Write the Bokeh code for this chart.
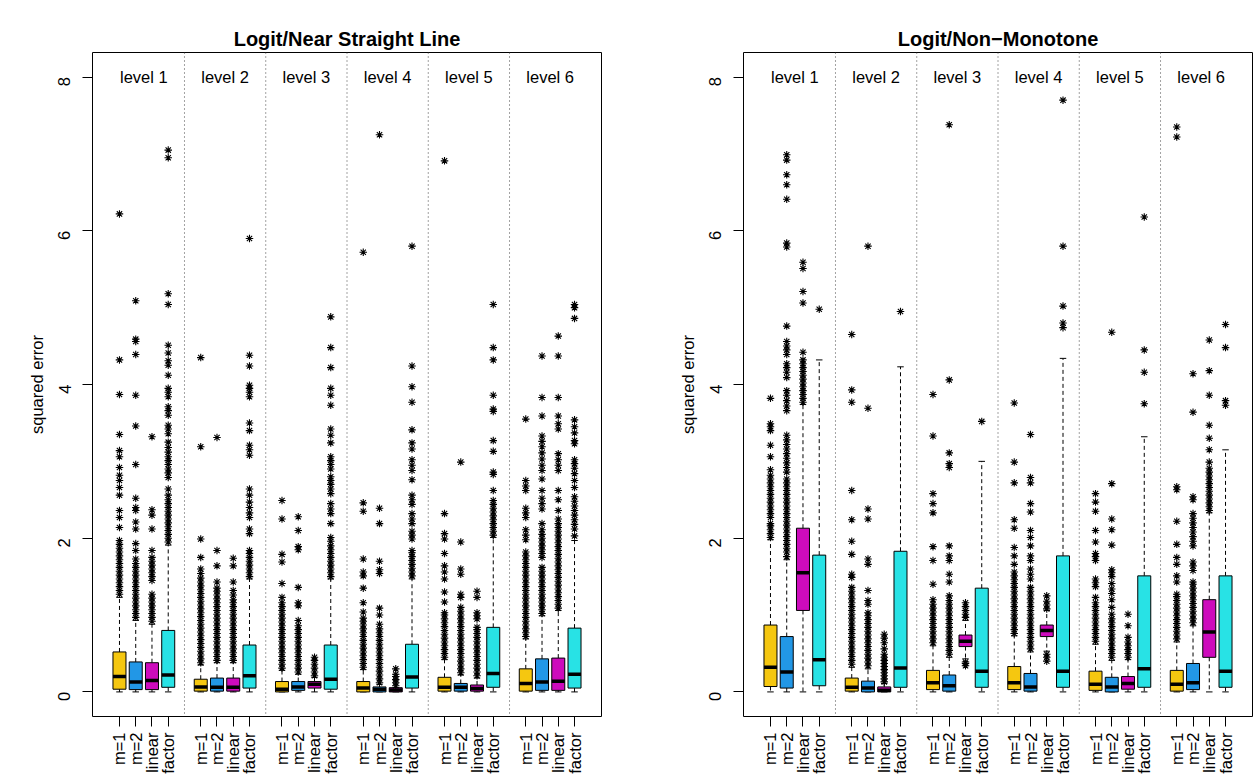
import math
from bokeh.plotting import figure
from bokeh.layouts import row
from bokeh.models import Range1d, FixedTicker, Span, Title, LinearAxis
from bokeh.core.properties import value
from bokeh.embed import file_html
from bokeh.resources import INLINE

levels = ["level 1", "level 2", "level 3", "level 4", "level 5", "level 6"]
methods = ["m=1", "m=2", "linear", "factor"]
colors = ["#F5C710", "#2297E6", "#CD0BBC", "#28E2E5"]
y_ticks = [0, 2, 4, 6, 8]
titles = ["Logit/Near Straight Line", "Logit/Non\u2212Monotone"]
y_label = "squared error"

# ---------------- left panel: Logit/Near Straight Line ----------------
left_lo = [0] * 24
left_q1 = [0.035, 0.03, 0.03, 0.06, 0.01, 0.01, 0.01, 0.05, 0.0, 0.02, 0.05, 0.035,
           0.0, 0.0, 0.0, 0.05, 0.01, 0.01, 0.01, 0.06, 0.01, 0.02, 0.02, 0.05]
left_med = [0.20, 0.13, 0.15, 0.22, 0.065, 0.06, 0.06, 0.21, 0.035, 0.065, 0.10, 0.165,
            0.05, 0.035, 0.025, 0.195, 0.06, 0.06, 0.045, 0.24, 0.11, 0.13, 0.14, 0.23]
left_q3 = [0.52, 0.39, 0.38, 0.80, 0.165, 0.18, 0.18, 0.61, 0.135, 0.135, 0.135, 0.61,
           0.135, 0.065, 0.055, 0.62, 0.19, 0.11, 0.09, 0.84, 0.30, 0.43, 0.44, 0.83]
left_hi = [1.23, 0.93, 0.88, 1.91, 0.35, 0.38, 0.38, 1.47, 0.28, 0.23, 0.19, 1.47,
           0.29, 0.10, 0.055, 1.47, 0.42, 0.22, 0.18, 2.01, 0.69, 0.99, 1.06, 1.97]
left_out = [
    [1.27, 1.32, 1.37, 1.42, 1.47, 1.52, 1.57, 1.62, 1.67, 1.72, 1.77, 1.82, 1.87, 1.92, 1.97,
     2.14, 2.27, 2.36, 2.56, 2.66, 2.75, 2.82, 2.92, 3.06, 3.14, 3.35, 3.87, 4.32, 6.22],
    [0.97, 1.02, 1.07, 1.12, 1.17, 1.22, 1.27, 1.32, 1.37, 1.42, 1.47, 1.52, 1.57, 1.62, 1.67,
     1.73, 1.84, 1.93, 2.12, 2.21, 2.36, 2.40, 2.52, 2.96, 3.46, 3.86, 4.39, 4.56, 4.59, 5.09],
    [0.92, 0.97, 1.02, 1.07, 1.12, 1.17, 1.22, 1.27, 1.45, 1.50, 1.55, 1.60, 1.65, 1.70, 1.75,
     1.84, 2.12, 2.30, 2.37, 3.32],
    [1.95, 2.00, 2.05, 2.10, 2.15, 2.20, 2.25, 2.30, 2.35, 2.40, 2.45, 2.50, 2.56, 2.64, 2.79,
     2.85, 2.90, 2.96, 3.01, 3.06, 3.12, 3.18, 3.25, 3.36, 3.42, 3.47, 3.60, 3.66, 3.71, 3.84,
     3.90, 3.95, 4.12, 4.25, 4.31, 4.41, 4.51, 5.04, 5.18, 6.95, 7.05],
    [0.38, 0.43, 0.48, 0.53, 0.58, 0.63, 0.68, 0.73, 0.78, 0.83, 0.88, 0.93, 0.98, 1.03, 1.08,
     1.13, 1.18, 1.23, 1.28, 1.33, 1.38, 1.43, 1.48, 1.54, 1.60, 1.75, 1.99, 3.19, 4.35],
    [0.41, 0.46, 0.51, 0.56, 0.61, 0.66, 0.71, 0.76, 0.81, 0.86, 0.91, 0.96, 1.01, 1.06, 1.11,
     1.16, 1.21, 1.26, 1.31, 1.35, 1.43, 1.64, 1.84, 3.31],
    [0.41, 0.46, 0.51, 0.56, 0.61, 0.66, 0.71, 0.76, 0.81, 0.86, 0.91, 0.96, 1.01, 1.06, 1.11,
     1.16, 1.20, 1.26, 1.32, 1.43, 1.64, 1.74],
    [1.50, 1.55, 1.60, 1.65, 1.70, 1.75, 1.80, 1.84, 2.06, 2.12, 2.27, 2.33, 2.40, 2.47, 2.56,
     2.64, 3.08, 3.15, 3.21, 3.40, 3.50, 3.84, 3.90, 3.95, 3.99, 4.24, 4.38, 5.90],
    [0.31, 0.36, 0.41, 0.46, 0.51, 0.56, 0.61, 0.66, 0.71, 0.76, 0.81, 0.86, 0.91, 0.96, 1.01,
     1.06, 1.11, 1.16, 1.23, 1.41, 1.69, 1.79, 2.25, 2.49],
    [0.26, 0.31, 0.36, 0.41, 0.46, 0.51, 0.56, 0.61, 0.66, 0.71, 0.76, 0.81, 0.86, 0.93, 1.12,
     1.16, 1.36, 1.85, 1.89, 2.10, 2.28],
    [0.21, 0.26, 0.31, 0.36, 0.41, 0.45],
    [1.50, 1.55, 1.60, 1.65, 1.70, 1.75, 1.80, 1.85, 1.90, 1.96, 2.01, 2.19, 2.32, 2.38, 2.45,
     2.58, 2.64, 2.70, 2.75, 2.80, 2.90, 2.96, 3.01, 3.06, 3.24, 3.34, 3.42, 3.73, 3.86, 3.95,
     4.22, 4.48, 4.88],
    [0.32, 0.37, 0.42, 0.47, 0.52, 0.57, 0.62, 0.67, 0.72, 0.77, 0.82, 0.87, 0.92, 0.96, 1.04,
     1.16, 1.35, 1.51, 1.56, 1.73, 2.35, 2.46, 5.72],
    [0.12, 0.17, 0.22, 0.27, 0.32, 0.37, 0.42, 0.47, 0.52, 0.57, 0.62, 0.67, 0.72, 0.77, 0.82,
     0.88, 1.00, 1.09, 1.54, 1.59, 1.70, 2.19, 2.39, 7.25],
    [0.08, 0.12, 0.16, 0.20, 0.23, 0.30],
    [1.51, 1.56, 1.61, 1.66, 1.71, 1.76, 1.81, 1.84, 1.99, 2.04, 2.09, 2.19, 2.25, 2.32, 2.44,
     2.50, 2.56, 2.76, 2.88, 2.95, 3.02, 3.16, 3.24, 3.41, 3.77, 3.97, 4.24, 5.80],
    [0.45, 0.50, 0.55, 0.60, 0.65, 0.70, 0.75, 0.80, 0.85, 0.90, 0.95, 1.00, 1.03, 1.17, 1.30,
     1.47, 1.56, 1.64, 1.80, 1.99, 2.06, 2.32, 6.91],
    [0.25, 0.30, 0.35, 0.40, 0.45, 0.50, 0.55, 0.60, 0.65, 0.70, 0.75, 0.80, 0.85, 0.90, 0.95,
     1.00, 1.05, 1.10, 1.23, 1.27, 1.53, 1.60, 1.95, 2.99],
    [0.21, 0.26, 0.31, 0.36, 0.41, 0.46, 0.51, 0.56, 0.61, 0.66, 0.71, 0.76, 0.81, 0.84, 0.95,
     0.99, 1.03, 1.23, 1.31],
    [2.04, 2.09, 2.14, 2.19, 2.24, 2.29, 2.34, 2.39, 2.44, 2.49, 2.62, 2.83, 2.86, 3.13, 3.27,
     3.65, 3.68, 3.86, 4.32, 4.48, 5.04],
    [0.72, 0.77, 0.82, 0.87, 0.92, 0.97, 1.02, 1.07, 1.12, 1.17, 1.22, 1.27, 1.32, 1.37, 1.42,
     1.47, 1.52, 1.57, 1.62, 1.67, 1.72, 1.77, 1.82, 1.98, 2.04, 2.11, 2.27, 2.33, 2.39, 2.62,
     2.68, 2.75, 3.55],
    [1.02, 1.07, 1.12, 1.17, 1.22, 1.27, 1.32, 1.37, 1.42, 1.47, 1.52, 1.57, 1.62, 1.75, 1.80,
     1.85, 1.90, 1.95, 2.00, 2.05, 2.11, 2.19, 2.38, 2.45, 2.52, 2.62, 2.77, 2.88, 2.95, 3.03,
     3.11, 3.19, 3.26, 3.33, 3.59, 3.83, 4.37],
    [1.09, 1.14, 1.19, 1.24, 1.29, 1.34, 1.39, 1.44, 1.49, 1.54, 1.59, 1.64, 1.69, 1.74, 1.79,
     1.84, 1.89, 1.94, 1.99, 2.04, 2.09, 2.14, 2.19, 2.25, 2.36, 2.50, 2.62, 2.88, 2.95, 3.02,
     3.10, 3.42, 3.49, 3.59, 3.83, 4.37, 4.63],
    [2.03, 2.12, 2.18, 2.24, 2.30, 2.36, 2.42, 2.48, 2.54, 2.66, 2.75, 2.84, 2.91, 2.97, 3.02,
     3.23, 3.27, 3.37, 3.45, 3.54, 4.86, 5.00, 5.04],
]

# ---------------- right panel: Logit/Non-Monotone ----------------
right_lo = [0, 0, 0, 0, 0, 0, 0, 0, 0, 0, 0.43, 0,
            0, 0, 0.53, 0, 0, 0, 0, 0, 0, 0, 0, 0]
right_q1 = [0.07, 0.05, 1.06, 0.08, 0.01, 0.0, 0.0, 0.06, 0.03, 0.01, 0.59, 0.06,
            0.03, 0.01, 0.72, 0.06, 0.02, 0.0, 0.035, 0.06, 0.01, 0.03, 0.45, 0.06]
right_med = [0.32, 0.26, 1.55, 0.42, 0.06, 0.05, 0.02, 0.31, 0.12, 0.08, 0.66, 0.27,
             0.12, 0.065, 0.80, 0.27, 0.10, 0.065, 0.11, 0.30, 0.10, 0.12, 0.78, 0.27]
right_q3 = [0.87, 0.72, 2.13, 1.78, 0.18, 0.14, 0.065, 1.83, 0.28, 0.22, 0.74, 1.35,
            0.33, 0.24, 0.87, 1.77, 0.27, 0.19, 0.20, 1.51, 0.28, 0.37, 1.20, 1.51]
right_hi = [1.98, 1.72, 3.74, 4.32, 0.32, 0.30, 0.11, 4.23, 0.60, 0.45, 0.93, 3.00,
            0.73, 0.52, 1.06, 4.34, 0.62, 0.41, 0.42, 3.32, 0.65, 0.86, 2.33, 3.15]
right_out = [
    [2.01, 2.06, 2.11, 2.16, 2.19, 2.27, 2.32, 2.37, 2.42, 2.47, 2.52, 2.57, 2.62, 2.67, 2.72,
     2.77, 2.82, 2.89, 3.06, 3.21, 3.40, 3.45, 3.49, 3.82],
    [1.76, 1.82, 1.87, 1.92, 1.97, 2.02, 2.07, 2.12, 2.17, 2.22, 2.27, 2.32, 2.37, 2.42, 2.47,
     2.52, 2.57, 2.62, 2.67, 2.72, 2.77, 2.86, 2.92, 2.98, 3.04, 3.10, 3.16, 3.22, 3.28, 3.34,
     3.66, 3.72, 3.79, 3.86, 3.92, 4.09, 4.16, 4.22, 4.27, 4.39, 4.45, 4.50, 4.56, 4.76, 5.79,
     5.84, 6.41, 6.60, 6.73, 6.92, 6.99],
    [3.77, 3.82, 3.87, 3.92, 3.97, 4.02, 4.07, 4.12, 4.17, 4.22, 4.27, 4.32, 4.42, 5.06, 5.21,
     5.51, 5.59],
    [4.98],
    [0.36, 0.41, 0.46, 0.51, 0.56, 0.61, 0.66, 0.71, 0.76, 0.81, 0.86, 0.91, 0.96, 1.01, 1.06,
     1.11, 1.16, 1.21, 1.26, 1.31, 1.36, 1.49, 1.53, 1.79, 1.96, 2.24, 2.62, 3.77, 3.93, 4.65],
    [0.34, 0.39, 0.44, 0.49, 0.54, 0.59, 0.64, 0.69, 0.74, 0.79, 0.84, 0.89, 0.94, 0.99, 1.03,
     1.14, 1.19, 1.32, 1.66, 1.73, 2.25, 2.38, 3.69, 5.80],
    [0.13, 0.17, 0.21, 0.25, 0.29, 0.33, 0.37, 0.41, 0.45, 0.49, 0.56, 0.64, 0.70, 0.75],
    [4.95],
    [0.64, 0.69, 0.74, 0.79, 0.84, 0.89, 0.94, 0.99, 1.04, 1.09, 1.14, 1.20, 1.40, 1.71, 1.89,
     2.33, 2.45, 2.58, 3.33, 3.87],
    [0.49, 0.54, 0.59, 0.64, 0.69, 0.74, 0.79, 0.84, 0.89, 0.94, 0.99, 1.04, 1.09, 1.14, 1.19,
     1.25, 1.43, 1.53, 1.71, 1.77, 1.90, 2.92, 2.97, 3.11, 4.06, 7.38],
    [0.34, 0.37, 0.39, 0.97, 1.01, 1.06, 1.11, 1.16],
    [3.52],
    [0.76, 0.81, 0.86, 0.91, 0.96, 1.01, 1.06, 1.11, 1.16, 1.21, 1.26, 1.31, 1.36, 1.41, 1.46,
     1.51, 1.56, 1.66, 1.77, 1.88, 2.13, 2.24, 2.72, 2.99, 3.76],
    [0.56, 0.61, 0.66, 0.71, 0.76, 0.81, 0.86, 0.91, 0.96, 1.01, 1.06, 1.11, 1.16, 1.21, 1.26,
     1.31, 1.36, 1.47, 1.53, 1.60, 1.71, 1.77, 1.90, 2.01, 2.10, 2.34, 2.45, 2.72, 2.79, 3.35],
    [0.40, 0.45, 0.49, 1.08, 1.13, 1.18, 1.25],
    [4.74, 4.80, 5.02, 5.80, 7.70],
    [0.66, 0.71, 0.76, 0.81, 0.86, 0.91, 0.96, 1.01, 1.06, 1.11, 1.16, 1.23, 1.37, 1.42, 1.47,
     1.71, 1.76, 1.80, 1.95, 2.10, 2.35, 2.47, 2.58],
    [0.45, 0.50, 0.55, 0.60, 0.65, 0.70, 0.75, 0.80, 0.85, 0.90, 0.95, 1.01, 1.10, 1.20, 1.28,
     1.34, 1.41, 1.50, 1.55, 1.59, 1.91, 2.11, 2.25, 2.71, 4.68],
    [0.45, 0.50, 0.55, 0.60, 0.65, 0.71, 0.86, 1.01],
    [3.75, 4.16, 4.45, 6.18],
    [0.69, 0.74, 0.79, 0.84, 0.89, 0.94, 0.99, 1.04, 1.09, 1.14, 1.19, 1.24, 1.27, 1.43, 1.51,
     1.66, 1.75, 1.92, 2.22, 2.63, 2.67, 7.22, 7.35],
    [0.90, 0.95, 1.00, 1.05, 1.10, 1.15, 1.20, 1.25, 1.30, 1.35, 1.40, 1.43, 1.58, 1.64, 1.69,
     1.90, 1.96, 2.02, 2.08, 2.14, 2.20, 2.26, 2.32, 2.50, 2.54, 3.64, 4.14],
    [2.36, 2.41, 2.46, 2.51, 2.56, 2.61, 2.66, 2.71, 2.76, 2.81, 2.86, 2.91, 2.99, 3.15, 3.30,
     3.47, 3.86, 4.18, 4.58],
    [3.73, 3.79, 4.48, 4.78],
]

FONT = "Liberation Sans"
FS = "16.5px"


def panel(title, lo, q1, med, q3, hi, outs, width, border_left, border_right):
    n_lev, n_m = len(levels), len(methods)
    pos = [5 * g + k + 1 for g in range(n_lev) for k in range(n_m)]
    cols = [colors[k] for g in range(n_lev) for k in range(n_m)]
    x_lo, x_hi = 0.5, pos[-1] + 0.5
    xpad = 0.04 * (x_hi - x_lo)
    y_lo, y_hi = y_ticks[0], y_ticks[-1]
    ypad = 0.04 * (y_hi - y_lo)

    p = figure(width=width, height=782, output_backend="svg", toolbar_location=None,
               x_range=Range1d(x_lo - xpad, x_hi + xpad),
               y_range=Range1d(y_lo - ypad, y_hi + ypad),
               min_border_left=border_left, min_border_right=border_right,
               min_border_top=52, min_border_bottom=66, title=None)
    p.grid.visible = False
    p.background_fill_color = "white"
    p.border_fill_color = "white"
    p.outline_line_color = "black"
    p.outline_line_width = 1
    p.outline_line_alpha = 1

    # an empty, invisible axis above the frame acts as a spacer,
    # so that the title (added after it) sits at the very top
    spacer = LinearAxis(ticker=FixedTicker(ticks=[]), axis_line_color=None,
                        major_tick_line_color=None, minor_tick_line_color=None,
                        major_tick_in=0, major_tick_out=26, minor_tick_out=0,
                        minor_tick_in=0, major_label_standoff=0, axis_label=None)
    p.add_layout(spacer, "above")
    p.add_layout(Title(text=title, align="center", vertical_align="top", text_font=FONT,
                       text_font_size="20px", text_font_style="bold", text_color="black",
                       standoff=2), "above")

    # separators between levels
    for g in range(1, n_lev):
        p.add_layout(Span(location=5 * g, dimension="height", line_color="#444444",
                          line_dash="1 3", line_width=1))

    # whiskers
    p.segment(x0=pos, y0=q3, x1=pos, y1=hi, line_color="black", line_width=1, line_dash="4 3")
    p.segment(x0=pos, y0=q1, x1=pos, y1=lo, line_color="black", line_width=1, line_dash="4 3")
    # staples
    p.segment(x0=[x - 0.2 for x in pos], y0=hi, x1=[x + 0.2 for x in pos], y1=hi,
              line_color="black", line_width=1)
    p.segment(x0=[x - 0.2 for x in pos], y0=lo, x1=[x + 0.2 for x in pos], y1=lo,
              line_color="black", line_width=1)
    # boxes
    p.vbar(x=pos, width=0.8, bottom=q1, top=q3, fill_color=cols, line_color="black",
           line_width=1)
    # medians
    p.segment(x0=[x - 0.4 for x in pos], y0=med, x1=[x + 0.4 for x in pos], y1=med,
              line_color="black", line_width=3.5)
    # outliers
    ox, oy = [], []
    for x, vals in zip(pos, outs):
        ox.extend([x] * len(vals))
        oy.extend(vals)
    p.scatter(x=ox, y=oy, marker="asterisk", size=7.5, line_color="black", line_width=1.1)

    # level labels
    p.text(x=[5 * g + 2.5 for g in range(n_lev)], y=[8.0] * n_lev, text=levels,
           text_font=value(FONT), text_font_size=FS, text_align="center",
           text_baseline="middle", text_color="black")

    # axes
    xa = p.below[0]
    xa.ticker = FixedTicker(ticks=pos)
    xa.major_label_overrides = {x: methods[i % n_m] for i, x in enumerate(pos)}
    xa.major_label_orientation = math.pi / 2
    xa.minor_tick_line_color = None
    xa.major_tick_in = 0
    xa.major_tick_out = 10
    xa.major_tick_line_color = "black"
    xa.axis_line_color = None
    xa.major_label_standoff = 6
    xa.major_label_text_font = FONT
    xa.major_label_text_font_size = FS
    xa.major_label_text_color = "black"

    ya = p.left[0]
    ya.ticker = FixedTicker(ticks=y_ticks)
    ya.major_label_orientation = math.pi / 2
    ya.minor_tick_line_color = None
    ya.major_tick_in = 0
    ya.major_tick_out = 10
    ya.major_tick_line_color = "black"
    ya.axis_line_color = None
    ya.major_label_standoff = 18
    ya.major_label_text_font = FONT
    ya.major_label_text_font_size = FS
    ya.major_label_text_color = "black"
    ya.axis_label = y_label
    ya.axis_label_text_font = FONT
    ya.axis_label_text_font_size = FS
    ya.axis_label_text_font_style = "normal"
    ya.axis_label_text_color = "black"
    ya.axis_label_standoff = 4
    return p


p_left = panel(titles[0], left_lo, left_q1, left_med, left_q3, left_hi, left_out,
               651, 92, 50)
p_right = panel(titles[1], right_lo, right_q1, right_med, right_q3, right_hi, right_out,
                602, 92, 1)

layout = row(p_left, p_right)
open("out.html", "w").write(file_html(layout, INLINE))
